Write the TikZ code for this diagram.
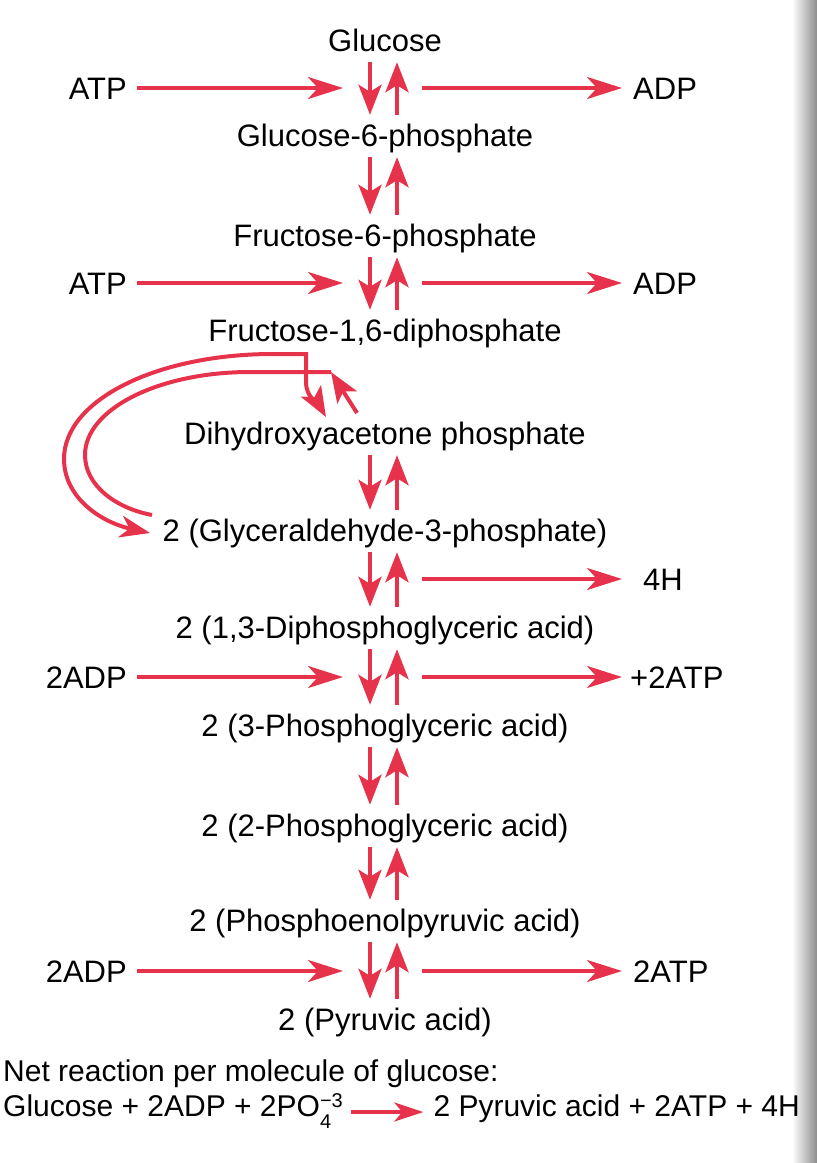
\documentclass[tikz,border=0pt]{standalone}
\usepackage{fontspec}
\setmainfont{Liberation Sans}
\usetikzlibrary{arrows.meta}

\definecolor{rxnred}{RGB}{230,50,75}

\tikzset{
  chem/.style={font=\fontsize{31}{36}\selectfont, inner sep=0pt, text height=23pt, text depth=7pt, anchor=base},
  side/.style={font=\fontsize{31}{36}\selectfont, inner sep=0pt, text height=22pt, text depth=0pt},
  eqn/.style={font=\fontsize{30}{36}\selectfont, inner sep=0pt, text height=14pt, text depth=6pt},
  fwd/.style={rxnred, line width=4pt, -{Stealth[length=30pt,width=23pt,inset=7pt]}, shorten <=4pt, shorten >=8pt},
  rev/.style={rxnred, line width=4pt, -{Stealth[length=30pt,width=23pt,inset=7pt]}, shorten <=8pt, shorten >=4pt},
  feed/.style={rxnred, line width=4pt, -{Stealth[length=35pt,width=22pt,inset=10pt]}},
  bypass/.style={rxnred, line width=4pt, line join=miter}
}

\begin{document}
\begin{tikzpicture}[x=1pt, y=-1pt]
    \useasboundingbox (0,0) rectangle (817,1163);

    % Page edge shadow
    \shade[left color=white, right color=black!45] (792,0) rectangle (817,1163);

    % Main chain of intermediates
    \node[chem] (glc)  at (385,51)   {Glucose};
    \node[chem] (g6p)  at (385,146)  {Glucose-6-phosphate};
    \node[chem] (f6p)  at (385,246)  {Fructose-6-phosphate};
    \node[chem] (fdp)  at (385,341)  {Fructose-1,6-diphosphate};
    \node[chem] (dhap) at (385,444)  {Dihydroxyacetone phosphate};
    \node[chem] (gap)  at (385,541)  {2 (Glyceraldehyde-3-phosphate)};
    \node[chem] (dpg)  at (385,638)  {2 (1,3-Diphosphoglyceric acid)};
    \node[chem] (pga3) at (385,736)  {2 (3-Phosphoglyceric acid)};
    \node[chem] (pga2) at (385,836)  {2 (2-Phosphoglyceric acid)};
    \node[chem] (pep)  at (385,931)  {2 (Phosphoenolpyruvic acid)};
    \node[chem] (pyr)  at (385,1030) {2 (Pyruvic acid)};

    % Forward and reverse steps
    \draw[fwd] ([xshift=-15pt]glc.south) -- ([xshift=-15pt]g6p.north);
    \draw[rev] ([xshift=12pt]g6p.north) -- ([xshift=12pt]glc.south);
    \draw[fwd] ([xshift=-15pt]g6p.south) -- ([xshift=-15pt]f6p.north);
    \draw[rev] ([xshift=12pt]f6p.north) -- ([xshift=12pt]g6p.south);
    \draw[fwd] ([xshift=-15pt]f6p.south) -- ([xshift=-15pt]fdp.north);
    \draw[rev] ([xshift=12pt]fdp.north) -- ([xshift=12pt]f6p.south);
    \draw[fwd] ([xshift=-15pt]dhap.south) -- ([xshift=-15pt]gap.north);
    \draw[rev] ([xshift=12pt]gap.north) -- ([xshift=12pt]dhap.south);
    \draw[fwd] ([xshift=-15pt]gap.south) -- ([xshift=-15pt]dpg.north);
    \draw[rev] ([xshift=12pt]dpg.north) -- ([xshift=12pt]gap.south);
    \draw[fwd] ([xshift=-15pt]dpg.south) -- ([xshift=-15pt]pga3.north);
    \draw[rev] ([xshift=12pt]pga3.north) -- ([xshift=12pt]dpg.south);
    \draw[fwd] ([xshift=-15pt]pga3.south) -- ([xshift=-15pt]pga2.north);
    \draw[rev] ([xshift=12pt]pga2.north) -- ([xshift=12pt]pga3.south);
    \draw[fwd] ([xshift=-15pt]pga2.south) -- ([xshift=-15pt]pep.north);
    \draw[rev] ([xshift=12pt]pep.north) -- ([xshift=12pt]pga2.south);
    \draw[fwd] ([xshift=-15pt]pep.south) -- ([xshift=-15pt]pyr.north);
    \draw[rev] ([xshift=12pt]pyr.north) -- ([xshift=12pt]pep.south);

    % Split of fructose-1,6-diphosphate
    \draw[bypass, {Stealth[length=30pt,width=23pt,inset=7pt]}-{Stealth[length=30pt,width=22pt,inset=9pt]}]
        (326,417) to[out=120,in=-90] (306,382) -- (306,354) -- (273,354)
        .. controls (157,354) and (64,400) .. (64,459)
        .. controls (64,497) and (100,522) .. (150,533);
    \draw[bypass] (331,372) -- (250,372)
        .. controls (159,372) and (85,409) .. (85,455)
        .. controls (85,485) and (115,508) .. (152,515);
    \draw[bypass, -{Stealth[length=30pt,width=23pt,inset=7pt]}] (357,413) -- (331,372);

    % Side reactants and products
    \node[side, anchor=east] (atp1) at (127,88) {ATP};
    \node[side, anchor=west] (adp1) at (633,88) {ADP};
    \coordinate (in1) at (343,88);
    \coordinate (out1) at (422,88);
    \draw[feed, shorten <=10pt] (atp1) -- (in1);
    \draw[feed, shorten >=11pt] (out1) -- (adp1);

    \node[side, anchor=east] (atp2) at (127,283) {ATP};
    \node[side, anchor=west] (adp2) at (633,283) {ADP};
    \coordinate (in2) at (343,283);
    \coordinate (out2) at (422,283);
    \draw[feed, shorten <=10pt] (atp2) -- (in2);
    \draw[feed, shorten >=11pt] (out2) -- (adp2);

    \node[side, anchor=west] (hyd) at (643,579) {4H};
    \coordinate (out3) at (422,579);
    \draw[feed, shorten >=21pt] (out3) -- (hyd);

    \node[side, anchor=east] (adp3) at (127,677) {2ADP};
    \node[side, anchor=west] (atp3) at (630,677) {+2ATP};
    \coordinate (in4) at (343,677);
    \coordinate (out4) at (422,677);
    \draw[feed, shorten <=10pt] (adp3) -- (in4);
    \draw[feed, shorten >=8pt] (out4) -- (atp3);

    \node[side, anchor=east] (adp4) at (127,971) {2ADP};
    \node[side, anchor=west] (atp4) at (633,971) {2ATP};
    \coordinate (in5) at (343,971);
    \coordinate (out5) at (422,971);
    \draw[feed, shorten <=10pt] (adp4) -- (in5);
    \draw[feed, shorten >=11pt] (out5) -- (atp4);

    % Net reaction
    \node[eqn, anchor=base west] (net) at (3,1081) {Net reaction per molecule of glucose:};
    \node[eqn, anchor=base west] (lhs) at (3,1116) {Glucose + 2ADP + 2PO\rlap{\raisebox{-0.42em}{\fontsize{20}{20}\selectfont 4}}\raisebox{0.3em}{\fontsize{20}{20}\selectfont −3}};
    \node[eqn, anchor=base east] (rhs) at (800,1116) {2 Pyruvic acid + 2ATP + 4H};
    \draw[rxnred, line width=4pt, -{Stealth[length=29pt,width=19pt,inset=8pt]}, shorten <=8pt, shorten >=10pt] (lhs) -- (rhs);
\end{tikzpicture}
\end{document}
